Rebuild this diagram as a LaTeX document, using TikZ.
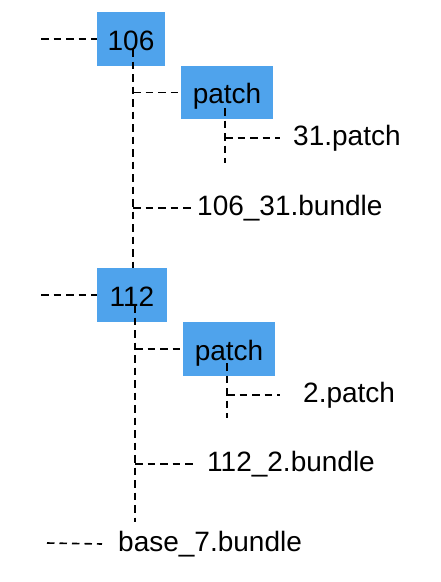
\documentclass[tikz,border=0pt]{standalone}
\usepackage{fontspec}
\setmainfont{Liberation Sans}
\usetikzlibrary{calc}
\definecolor{boxblue}{HTML}{4FA3EC}
\begin{document}
\begin{tikzpicture}[x=1pt,y=-1pt,
  box/.style={fill=boxblue, draw=none, inner sep=0, text depth=0pt, text height=22pt, font=\fontsize{28}{32}\selectfont},
  lbl/.style={inner sep=0, anchor=west, font=\fontsize{28}{32}\selectfont},
  dl/.style={draw=black, line width=1.6pt, dash pattern=on 7.5pt off 5pt}]
\useasboundingbox (0,0) rectangle (440,582);
% boxes
\node[box, minimum width=68, minimum height=54] (n106) at (131,39) {106};
\node[box, minimum width=92, minimum height=53] (p1) at (227,92.5) {patch};
\node[lbl] (t31) at (293,138) {31.patch};
\node[lbl] (b1) at (197,208) {106\_31.bundle};
\node[box, minimum width=70, minimum height=54] (n112) at (132,295) {112};
\node[box, minimum width=92, minimum height=54] (p2) at (229,349) {patch};
\node[lbl] (t2) at (303,395) {2.patch};
\node[lbl] (b2) at (207,464) {112\_2.bundle};
\node[lbl] (base) at (118,544) {base\_7.bundle};
% free ends
\coordinate (l106) at (41,39);
\coordinate (v1top) at (133,49);
\coordinate (pv1top) at (225,108);
\coordinate (pv1bot) at (225,163);
\coordinate (l112) at (41,295);
\coordinate (v2top) at (135,305);
\coordinate (v2bot) at (135,522);
\coordinate (pv2top) at (227,363);
\coordinate (pv2bot) at (227,418);
\coordinate (lbase) at (47,543);
% connectors group 1
\draw[dl] (l106) -- (n106.west);
\draw[dl] (v1top) -- (v1top |- n112.north);
\draw[dl] (v1top |- p1.west) -- (p1.west);
\draw[dl] (pv1top) -- (pv1bot);
\draw[dl] (pv1top |- t31.west) -- ($(t31.west)+(-13,0)$);
\draw[dl] (v1top |- b1.west) -- ($(b1.west)+(-5,0)$);
% connectors group 2
\draw[dl] (l112) -- (n112.west);
\draw[dl] (v2top) -- (v2bot);
\draw[dl] (v2top |- p2.west) -- (p2.west);
\draw[dl] (pv2top) -- (pv2bot);
\draw[dl] (pv2top |- t2.west) -- ($(t2.west)+(-23,0)$);
\draw[dl] (v2top |- b2.west) -- ($(b2.west)+(-12,0)$);
\draw[dl] (lbase) -- ($(base.west)+(-16,0)$);
\end{tikzpicture}
\end{document}
